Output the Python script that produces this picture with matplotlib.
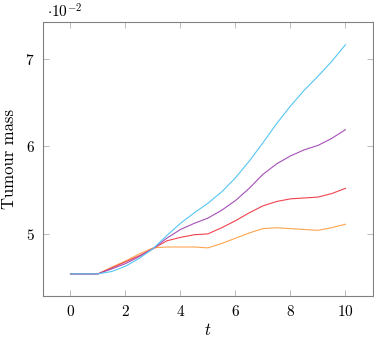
import numpy as np
import matplotlib
matplotlib.use('Agg')
import matplotlib.pyplot as plt

plt.rcParams['font.family'] = 'serif'
plt.rcParams['font.serif'] = ['cmr10', 'DejaVu Serif']
plt.rcParams['mathtext.fontset'] = 'cm'
plt.rcParams['axes.formatter.use_mathtext'] = True

t = [0, 0.5, 1, 1.5, 2, 2.5, 3, 3.5, 4, 4.5, 5, 5.5, 6, 6.5, 7, 7.5, 8, 8.5, 9, 9.5, 10]

# tumour mass, in units of 1e-2
cyan_mass = [4.543, 4.543, 4.543, 4.57, 4.63, 4.72, 4.83, 4.98, 5.12, 5.24, 5.35,
             5.48, 5.64, 5.83, 6.04, 6.26, 6.46, 6.64, 6.80, 6.97, 7.16]
purple_mass = [4.543, 4.543, 4.543, 4.60, 4.66, 4.74, 4.83, 4.95, 5.05, 5.12, 5.18,
               5.27, 5.38, 5.52, 5.68, 5.80, 5.89, 5.96, 6.01, 6.09, 6.19]
red_mass = [4.543, 4.543, 4.543, 4.61, 4.68, 4.75, 4.83, 4.92, 4.96, 4.99, 5.00,
            5.07, 5.15, 5.24, 5.32, 5.37, 5.40, 5.41, 5.42, 5.46, 5.52]
orange_mass = [4.543, 4.543, 4.543, 4.62, 4.69, 4.77, 4.84, 4.85, 4.85, 4.85, 4.84,
               4.89, 4.95, 5.01, 5.06, 5.07, 5.06, 5.05, 5.04, 5.07, 5.11]

series = [
    (orange_mass, '#ffa54f'),
    (red_mass, '#f0434f'),
    (purple_mass, '#a64fb8'),
    (cyan_mass, '#55c6f2'),
]

fig = plt.figure(figsize=(3.74, 3.42), dpi=100)
ax = fig.add_axes([0.115, 0.1345, 0.882, 0.801])

for vals, col in series:
    ax.plot(t, np.array(vals) * 1e-2, color=col, lw=0.8)

ax.set_xlim(-1, 11)
ax.set_ylim(0.0429, 0.0742)
ax.set_xticks([0, 2, 4, 6, 8, 10])
ax.set_xticklabels(['$0$', '$2$', '$4$', '$6$', '$8$', '$10$'])
ax.set_yticks([0.05, 0.06, 0.07])
ax.set_yticklabels(['$5$', '$6$', '$7$'])
ax.tick_params(direction='in', length=4, width=0.6, color='#b0b0b0',
               top=True, right=True, labelsize=11, pad=6)
for sp in ax.spines.values():
    sp.set_color('#808080')
    sp.set_linewidth(0.8)

ax.set_xlabel('$t$', fontsize=12, labelpad=2)
ax.set_ylabel('Tumour mass', fontsize=12, labelpad=6)
fig.text(0.125, 0.965, r'$\cdot 10^{-2}$', fontsize=11, ha='left', va='center')

fig.savefig('out.png', dpi=100)
